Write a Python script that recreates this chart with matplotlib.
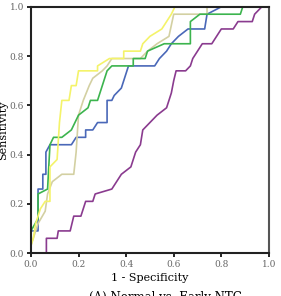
import matplotlib
matplotlib.use("Agg")
import matplotlib.pyplot as plt

# ROC curve vertices (1 - specificity, sensitivity)
blue_x = [0.0, 0.0, 0.03, 0.03, 0.05, 0.05, 0.063, 0.063, 0.08, 0.17, 0.19, 0.23, 0.23, 0.26, 0.28, 0.32, 0.32, 0.34, 0.35, 0.38, 0.41, 0.52, 0.54, 0.57, 0.59, 0.62, 0.66, 0.73, 0.74, 0.80, 1.0]
blue_y = [0.0, 0.09, 0.09, 0.26, 0.26, 0.32, 0.32, 0.41, 0.44, 0.44, 0.47, 0.47, 0.50, 0.50, 0.53, 0.53, 0.62, 0.62, 0.64, 0.67, 0.76, 0.76, 0.79, 0.82, 0.85, 0.88, 0.91, 0.91, 0.97, 1.0, 1.0]

green_x = [0.0, 0.0, 0.03, 0.03, 0.07, 0.08, 0.095, 0.13, 0.17, 0.20, 0.24, 0.25, 0.28, 0.30, 0.32, 0.34, 0.43, 0.43, 0.48, 0.49, 0.56, 0.67, 0.67, 0.71, 0.88, 0.89, 1.0]
green_y = [0.0, 0.09, 0.14, 0.24, 0.26, 0.44, 0.47, 0.47, 0.50, 0.56, 0.59, 0.62, 0.62, 0.68, 0.74, 0.76, 0.76, 0.79, 0.79, 0.82, 0.85, 0.85, 0.94, 0.97, 0.97, 1.0, 1.0]

tan_x = [0.0, 0.0, 0.03, 0.06, 0.07, 0.09, 0.13, 0.18, 0.19, 0.20, 0.22, 0.245, 0.26, 0.30, 0.32, 0.34, 0.46, 0.49, 0.53, 0.58, 0.60, 0.74, 0.74, 1.0]
tan_y = [0.0, 0.03, 0.12, 0.17, 0.24, 0.29, 0.32, 0.32, 0.41, 0.56, 0.62, 0.68, 0.71, 0.74, 0.76, 0.79, 0.79, 0.82, 0.85, 0.88, 0.97, 0.97, 1.0, 1.0]

yellow_x = [0.0, 0.0, 0.01, 0.02, 0.04, 0.06, 0.08, 0.08, 0.11, 0.12, 0.13, 0.16, 0.17, 0.19, 0.20, 0.28, 0.28, 0.33, 0.39, 0.39, 0.46, 0.47, 0.50, 0.55, 0.57, 0.59, 0.605, 1.0]
yellow_y = [0.0, 0.03, 0.06, 0.12, 0.18, 0.21, 0.21, 0.35, 0.38, 0.53, 0.62, 0.62, 0.68, 0.68, 0.74, 0.74, 0.76, 0.79, 0.79, 0.82, 0.82, 0.85, 0.88, 0.91, 0.94, 0.97, 1.0, 1.0]

purple_x = [0.0, 0.065, 0.065, 0.11, 0.115, 0.165, 0.18, 0.21, 0.22, 0.23, 0.26, 0.27, 0.34, 0.36, 0.38, 0.42, 0.43, 0.44, 0.46, 0.47, 0.50, 0.53, 0.57, 0.59, 0.60, 0.61, 0.65, 0.67, 0.68, 0.70, 0.72, 0.76, 0.78, 0.80, 0.85, 0.87, 0.93, 0.94, 0.97, 1.0]
purple_y = [0.0, 0.0, 0.06, 0.06, 0.09, 0.09, 0.15, 0.15, 0.18, 0.21, 0.21, 0.24, 0.26, 0.29, 0.32, 0.35, 0.38, 0.41, 0.44, 0.50, 0.53, 0.56, 0.59, 0.65, 0.70, 0.74, 0.74, 0.76, 0.79, 0.82, 0.85, 0.85, 0.88, 0.91, 0.91, 0.94, 0.94, 0.97, 1.0, 1.0]

ticks = [0.0, 0.2, 0.4, 0.6, 0.8, 1.0]

plt.rcParams['font.family'] = ['DejaVu Serif']

fig = plt.figure(figsize=(2.81, 2.96), dpi=100)
ax = fig.add_axes([0.110, 0.145, 0.847, 0.832])

ax.plot(purple_x, purple_y, color='#8a3b8f', lw=1.2)
ax.plot(blue_x, blue_y, color='#4a68b8', lw=1.2)
ax.plot(tan_x, tan_y, color='#d3d0a2', lw=1.2)
ax.plot(green_x, green_y, color='#3cb44e', lw=1.2)
ax.plot(yellow_x, yellow_y, color='#f4f36a', lw=1.2, clip_on=False)

ax.set_xlim(0, 1)
ax.set_ylim(0, 1)
ax.set_xticks(ticks)
ax.set_yticks(ticks)
ax.set_xticklabels([f'{t:.1f}' for t in ticks])
ax.set_yticklabels([f'{t:.1f}' for t in ticks])
ax.tick_params(direction='out', length=3, width=1.2, labelsize=6.5,
               labelcolor='#666666', pad=2)

for s in ['left', 'bottom', 'top']:
    ax.spines[s].set_linewidth(1.5)
    ax.spines[s].set_color('#222222')
ax.spines['right'].set_linewidth(1.5)
ax.spines['right'].set_color('#555555')

ax.set_xlabel('1 - Specificity', fontsize=8, labelpad=3)
ax.set_ylabel('Sensitivity', fontsize=8, labelpad=1)

# caption sits at the bottom edge, mostly cut off as in the source image
fig.text(0.59, 0.016, '(A) Normal vs. Early NTG', fontsize=8.5, ha='center', va='top')

fig.savefig('out.png', dpi=100)
